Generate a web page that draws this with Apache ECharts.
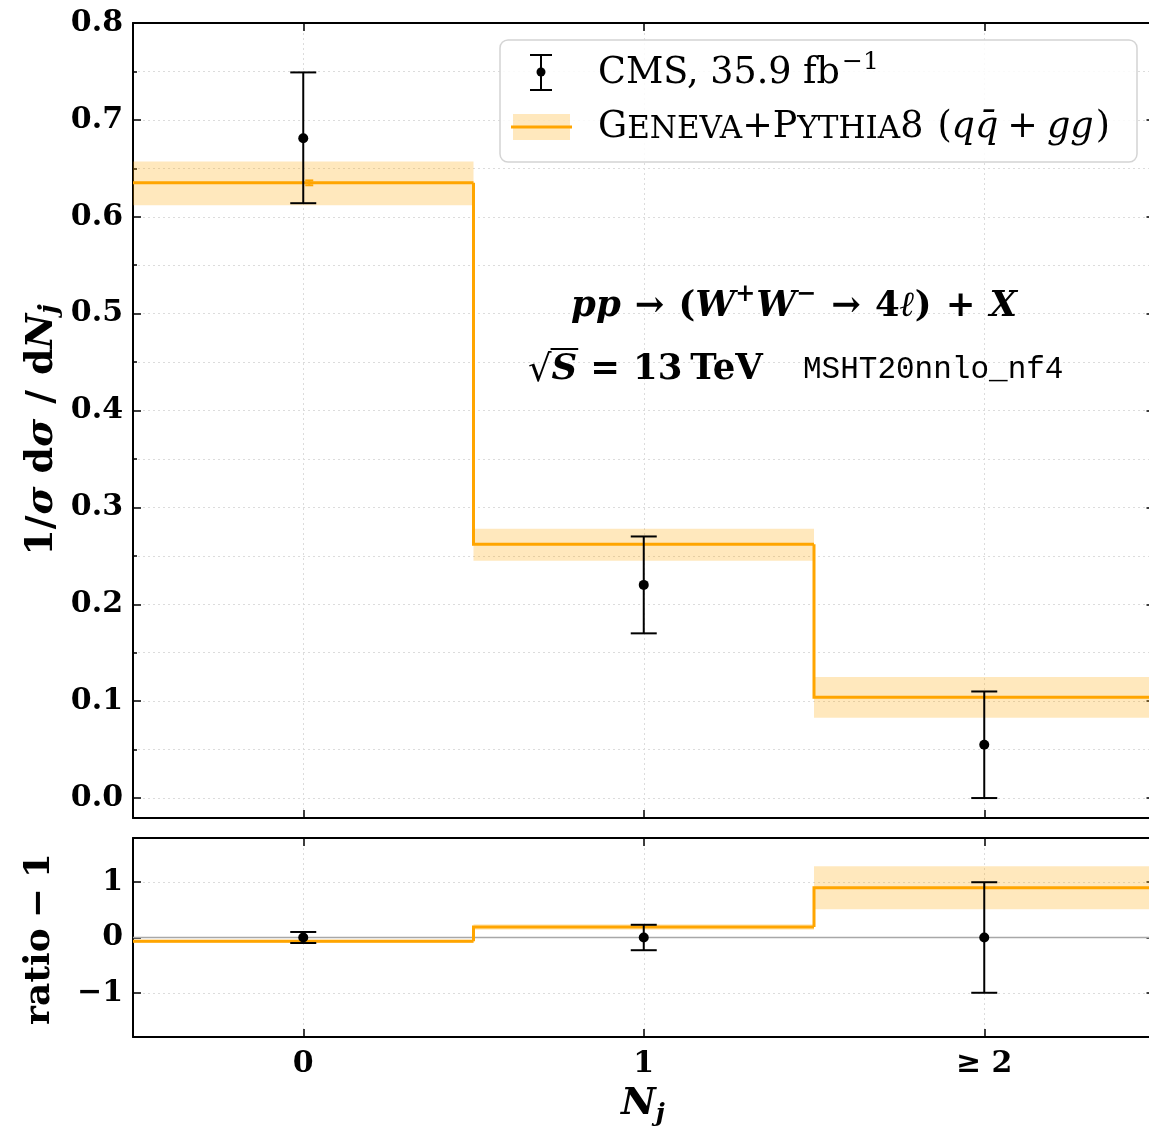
<!DOCTYPE html>
<html><head><meta charset="utf-8">
<script src="https://cdn.jsdelivr.net/npm/echarts@6/dist/echarts.min.js"></script>
<style>html,body{margin:0;padding:0;background:#fff;overflow:hidden}#c{width:1165px;height:1129px}</style>
</head><body><div id="c"></div>
<script>
// ---------------- data ----------------
const binCenters = [0, 1, 2];
const binLabels = ['0', '1', '≥ 2'];

const genevaVal = [0.635, 0.262, 0.104];
const genevaLo  = [0.612, 0.245, 0.083];
const genevaHi  = [0.657, 0.278, 0.125];
const genevaStat = [0.0025, 0, 0];

const cmsVal = [0.681, 0.220, 0.055];
const cmsLo  = [0.614, 0.170, 0.000];
const cmsHi  = [0.749, 0.270, 0.110];

const ratioGeneva   = [-0.07, 0.19, 0.90];
const ratioGenevaLo = [-0.10, 0.14, 0.51];
const ratioGenevaHi = [-0.04, 0.24, 1.29];
const ratioCms    = [0, 0, 0];
const ratioCmsErr = [0.10, 0.23, 1.00];

const mainYTicks = [0, 0.1, 0.2, 0.3, 0.4, 0.5, 0.6, 0.7, 0.8];
const mainYMinor = [0.05, 0.15, 0.25, 0.35, 0.45, 0.55, 0.65, 0.75];
const ratioYTicks = [-1, 0, 1];

// ---------------- helpers ----------------
const ORANGE = '#FFA500';
const BAND = 'rgba(255,165,0,0.26)';
const SERIF = '"DejaVu Serif", serif';
const mctx = document.createElement('canvas').getContext('2d');
function tw(t, f) { mctx.font = f; return mctx.measureText(t).width; }
function run(parts) {
  let x = 0; const children = [];
  parts.forEach(p => {
    const w = tw(p.t, p.f);
    children.push({ type: 'text', x: x + (p.dx || 0), y: p.dy || 0, z: 100,
      style: { text: p.t, font: p.f, fill: '#000', align: 'left', verticalAlign: 'middle',
               textAlign: 'left', textVerticalAlign: 'middle' } });
    if (p.over !== undefined) {
      children.push({ type: 'line', z: 100, shape: { x1: x - 1, y1: p.over, x2: x + w + 1, y2: p.over },
        style: { stroke: '#000', lineWidth: 2 } });
    }
    x += w + (p.gap || 0);
  });
  return { width: x, children };
}
function textGroup(parts, x, y, opts) {
  opts = opts || {};
  const r = run(parts);
  const sh = opts.center ? -r.width / 2 : 0;
  const kids = r.children.map(c => {
    const o = Object.assign({}, c);
    if (c.type === 'text') o.x = c.x + sh;
    else o.shape = Object.assign({}, c.shape, { x1: c.shape.x1 + sh, x2: c.shape.x2 + sh });
    return o;
  });
  return { type: 'group', x: x, y: y, rotation: opts.rot || 0, z: 100, children: kids };
}

function renderBand(params, api) {
  const x = api.value(0), lo = api.value(1), hi = api.value(2);
  const p1 = api.coord([x - 0.5, hi]), p2 = api.coord([x + 0.5, lo]);
  return { type: 'rect', shape: { x: p1[0], y: p1[1], width: p2[0] - p1[0], height: p2[1] - p1[1] },
    style: { fill: BAND } };
}
function renderStep(params, api) {
  const x = api.value(0), v = api.value(1), prev = api.value(2);
  const pts = [api.coord([x - 0.5, prev]), api.coord([x - 0.5, v]), api.coord([x + 0.5, v])];
  return { type: 'polyline', shape: { points: pts },
    style: { stroke: ORANGE, lineWidth: 3, fill: null, lineJoin: 'miter' } };
}
function makeErr(color, hw, r, off) {
  return function (params, api) {
    const x = api.value(0), v = api.value(1), lo = api.value(2), hi = api.value(3);
    const c = api.coord([x, v]), pl = api.coord([x, lo]), ph = api.coord([x, hi]);
    const cx = c[0] + off;
    const st = { stroke: color, lineWidth: 2 };
    const ch = [
      { type: 'line', shape: { x1: cx, y1: pl[1], x2: cx, y2: ph[1] }, style: st },
      { type: 'line', shape: { x1: cx - hw, y1: pl[1], x2: cx + hw, y2: pl[1] }, style: st },
      { type: 'line', shape: { x1: cx - hw, y1: ph[1], x2: cx + hw, y2: ph[1] }, style: st }
    ];
    if (r > 0) ch.push({ type: 'circle', shape: { cx: cx, cy: c[1], r: r }, style: { fill: color } });
    return { type: 'group', children: ch };
  };
}

// ---------------- layout ----------------
const GL = 133, GW = 1021.5;
const grids = [
  { left: GL, top: 23, width: GW, height: 795 },
  { left: GL, top: 838, width: GW, height: 199 }
];
const tickStyle = { color: '#000', width: 1.5 };
const axisLine = { show: true, onZero: false, lineStyle: { color: '#000', width: 2 } };
const noLine = { show: false, onZero: false };
const dotted = { show: true, lineStyle: { color: '#dcdcdc', type: [2, 3], width: 1 } };
const labelFont = { fontFamily: SERIF, fontWeight: 'bold', fontSize: 30, color: '#000' };

function xAx(grid, pos, labels) {
  return { type: 'value', gridIndex: grid, position: pos, min: -0.5, max: 2.5,
    axisLine: axisLine,
    axisTick: { show: true, inside: true, length: 8, lineStyle: tickStyle, customValues: binCenters },
    axisLabel: labels ? Object.assign({ show: true, margin: 12, customValues: binCenters,
      formatter: v => binLabels[binCenters.indexOf(v)] }, labelFont) : { show: false },
    splitLine: pos === 'bottom' ? dotted : { show: false } };
}
function yAx(grid, pos, min, max, ticks, len, labels, split, showLine, fmt) {
  return { type: 'value', gridIndex: grid, position: pos, min: min, max: max,
    axisLine: showLine ? axisLine : noLine,
    axisTick: { show: true, inside: true, length: len, lineStyle: tickStyle, customValues: ticks },
    axisLabel: labels ? Object.assign({ show: true, margin: 10, customValues: ticks, formatter: fmt }, labelFont)
                      : { show: false, customValues: ticks },
    splitLine: split ? dotted : { show: false } };
}
const fmtMain = v => v.toFixed(1);
const fmtRatio = v => (v < 0 ? '\u2212' + Math.abs(v) : '' + v);

const xAxes = [xAx(0, 'bottom', false), xAx(0, 'top', false), xAx(1, 'bottom', true), xAx(1, 'top', false)];
const yAxes = [
  yAx(0, 'left', -0.0206, 0.8, mainYTicks, 8, true, true, true, fmtMain),
  yAx(0, 'left', -0.0206, 0.8, mainYMinor, 4, false, true, false),
  yAx(0, 'right', -0.0206, 0.8, mainYTicks, 8, false, false, true),
  yAx(0, 'right', -0.0206, 0.8, mainYMinor, 4, false, false, false),
  yAx(1, 'left', -1.8, 1.8, ratioYTicks, 8, true, true, true, fmtRatio),
  yAx(1, 'right', -1.8, 1.8, ratioYTicks, 8, false, false, true)
];

const bandMain = binCenters.map((x, i) => [x, genevaLo[i], genevaHi[i]]);
const stepMain = binCenters.map((x, i) => [x, genevaVal[i], i > 0 ? genevaVal[i - 1] : genevaVal[i]]);
const statMain = binCenters.map((x, i) => [x, genevaVal[i], genevaVal[i] - genevaStat[i], genevaVal[i] + genevaStat[i]]).filter((d, i) => genevaStat[i] > 0);
const cmsMain = binCenters.map((x, i) => [x, cmsVal[i], cmsLo[i], cmsHi[i]]);
const bandRatio = binCenters.map((x, i) => [x, ratioGenevaLo[i], ratioGenevaHi[i]]);
const stepRatio = binCenters.map((x, i) => [x, ratioGeneva[i], i > 0 ? ratioGeneva[i - 1] : ratioGeneva[i]]);
const cmsRatio = binCenters.map((x, i) => [x, ratioCms[i], ratioCms[i] - ratioCmsErr[i], ratioCms[i] + ratioCmsErr[i]]);

const series = [
  { type: 'custom', xAxisIndex: 0, yAxisIndex: 0, z: 2, renderItem: renderBand, data: bandMain, encode: { x: 0, y: [1, 2] } },
  { type: 'custom', xAxisIndex: 0, yAxisIndex: 0, z: 4, renderItem: renderStep, data: stepMain, encode: { x: 0, y: [1, 2] } },
  { type: 'custom', xAxisIndex: 0, yAxisIndex: 0, z: 4, renderItem: makeErr(ORANGE, 4, 0, 6), data: statMain, encode: { x: 0, y: [1, 2, 3] } },
  { type: 'custom', xAxisIndex: 0, yAxisIndex: 0, z: 5, renderItem: makeErr('#000', 13, 5, 0), data: cmsMain, encode: { x: 0, y: [1, 2, 3] } },
  { type: 'line', xAxisIndex: 2, yAxisIndex: 4, z: 3, symbol: 'none', silent: true,
    lineStyle: { color: '#a8a8a8', width: 1.5 }, data: [[-0.5, 0], [2.5, 0]] },
  { type: 'custom', xAxisIndex: 2, yAxisIndex: 4, z: 2, renderItem: renderBand, data: bandRatio, encode: { x: 0, y: [1, 2] } },
  { type: 'custom', xAxisIndex: 2, yAxisIndex: 4, z: 4, renderItem: renderStep, data: stepRatio, encode: { x: 0, y: [1, 2] } },
  { type: 'custom', xAxisIndex: 2, yAxisIndex: 4, z: 5, renderItem: makeErr('#000', 13, 5, 0), data: cmsRatio, encode: { x: 0, y: [1, 2, 3] } }
];

// ---------------- texts ----------------
const F = (sz, w, st, fam) => (st || 'normal') + ' ' + (w || 'normal') + ' ' + sz + 'px ' + (fam || SERIF);
const gfx = [];
gfx.push({ type: 'rect', z: 90, shape: { x: 500, y: 40, width: 637, height: 122, r: 8 },
  style: { fill: 'rgba(255,255,255,0.85)', stroke: '#d4d4d4', lineWidth: 1.5 } });
const ist = { stroke: '#000', lineWidth: 2 };
gfx.push({ type: 'line', z: 95, shape: { x1: 541, y1: 55, x2: 541, y2: 90 }, style: ist });
gfx.push({ type: 'line', z: 95, shape: { x1: 530, y1: 55, x2: 552, y2: 55 }, style: ist });
gfx.push({ type: 'line', z: 95, shape: { x1: 530, y1: 90, x2: 552, y2: 90 }, style: ist });
gfx.push({ type: 'circle', z: 95, shape: { cx: 541, cy: 72, r: 4.5 }, style: { fill: '#000' } });
gfx.push({ type: 'rect', z: 95, shape: { x: 513, y: 114, width: 57, height: 26 }, style: { fill: BAND } });
gfx.push({ type: 'line', z: 96, shape: { x1: 511, y1: 127, x2: 572, y2: 127 }, style: { stroke: ORANGE, lineWidth: 3 } });

const LS = 36.5, LSC = 31;
gfx.push(textGroup([
  { t: 'CMS, 35.9 fb', f: F(LS) },
  { t: '\u22121', f: F(25), dy: -12, dx: 2 }
], 598, 74));
gfx.push(textGroup([
  { t: 'G', f: F(LS) }, { t: 'ENEVA', f: F(LSC), dy: 2 },
  { t: '+', f: F(LS) },
  { t: 'P', f: F(LS) }, { t: 'YTHIA', f: F(LSC), dy: 2 }, { t: '8', f: F(LS), gap: 14 },
  { t: '(', f: F(LS) }, { t: 'q', f: F(LS, 'normal', 'italic') }, { t: 'q\u0304', f: F(LS, 'normal', 'italic'), gap: 9 },
  { t: '+', f: F(LS), gap: 9 }, { t: 'gg', f: F(LS, 'normal', 'italic'), gap: 2 }, { t: ')', f: F(LS) }
], 598, 128));

const BI = sz => F(sz, 'bold', 'italic');
const B = sz => F(sz, 'bold');
const AS = 35.5;
gfx.push(textGroup([
  { t: 'pp', f: BI(AS), gap: 14 }, { t: '\u2192', f: B(AS), gap: 14 }, { t: '(', f: B(AS) },
  { t: 'W', f: BI(AS) }, { t: '+', f: B(24), dy: -12, gap: 1 }, { t: 'W', f: BI(AS) }, { t: '\u2212', f: B(24), dy: -12, gap: 15 },
  { t: '\u2192', f: B(AS), gap: 14 }, { t: '4', f: B(AS) }, { t: '\u2113', f: BI(AS) }, { t: ')', f: B(AS), gap: 14 },
  { t: '+', f: B(AS), gap: 14 }, { t: 'X', f: BI(AS) }
], 794, 307, { center: true }));
gfx.push(textGroup([
  { t: '\u221A', f: F(37), dy: 1 }, { t: 'S', f: BI(AS), over: -21, gap: 13 }, { t: '=', f: B(AS), gap: 13 },
  { t: '13', f: B(AS), gap: 8 }, { t: 'TeV', f: B(AS) }
], 528, 370));
gfx.push(textGroup([{ t: 'MSHT20nnlo_nf4', f: F(31, 'normal', 'normal', '"Liberation Mono", monospace') }], 803, 370));

const YS = 38;
gfx.push(textGroup([
  { t: '1/', f: B(YS), gap: 1 }, { t: '\u03C3', f: BI(YS), gap: 13 }, { t: 'd', f: B(YS) }, { t: '\u03C3', f: BI(YS), gap: 15 },
  { t: '/', f: B(YS), gap: 15 }, { t: 'd', f: B(YS) }, { t: 'N', f: BI(YS) }, { t: 'j', f: BI(26), dy: 8 }
], 42, 430, { center: true, rot: Math.PI / 2 }));
gfx.push(textGroup([
  { t: 'ratio', f: B(36), gap: 10 }, { t: '\u2212', f: B(36), gap: 10 }, { t: '1', f: B(36) }
], 40, 939, { center: true, rot: Math.PI / 2 }));
gfx.push(textGroup([
  { t: 'N', f: BI(38) }, { t: 'j', f: BI(25), dy: 10 }
], 643, 1104, { center: true }));

const chart = echarts.init(document.getElementById('c'), null, { renderer: 'canvas' });
chart.setOption({
  animation: false,
  backgroundColor: '#fff',
  grid: grids,
  xAxis: xAxes,
  yAxis: yAxes,
  series: series,
  graphic: { elements: gfx }
});
</script>
</body></html>
